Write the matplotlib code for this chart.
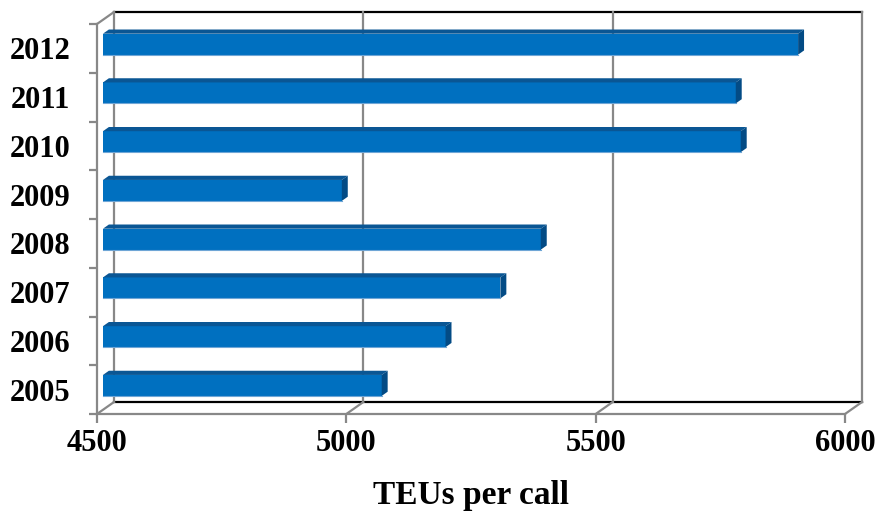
import numpy as np
import matplotlib
matplotlib.use("Agg")
import matplotlib.pyplot as plt
from matplotlib.patches import Polygon

years = ['2005', '2006', '2007', '2008', '2009', '2010', '2011', '2012']
teus_per_call = [5059, 5187, 5297, 5378, 4979, 5779, 5769, 5894]
x_ticks = [4500, 5000, 5500, 6000]
x_min, x_max = 4500, 6000

# pseudo-3d look: how far the back wall sits behind the front plane (data units)
depth_x, depth_y = 34.1, 0.246
bar_front, bar_back = 0.35, 0.70    # bar slab position inside the depth
bar_height = 0.43

front_col = '#0070C0'
top_col = '#0A5694'
side_col = '#034B85'
grid_col = '#888888'

plt.rcParams['font.family'] = ['Liberation Serif', 'DejaVu Serif']

fig = plt.figure(figsize=(8.77, 5.12), dpi=100)
ax = fig.add_axes([97 / 877, 98 / 512, 748 / 877, 390 / 512])
ax.set_xlim(x_min, x_max)
ax.set_ylim(-0.5, len(years) - 0.5)

n = len(years)
top_y = n - 0.5
bot_y = -0.5

# back wall and floor
line_kw = dict(clip_on=False, lw=1.6, solid_capstyle='projecting')
ax.plot([x_min + depth_x, x_max + depth_x], [top_y + depth_y] * 2, color='black', **line_kw)
ax.plot([x_min + depth_x, x_max + depth_x], [bot_y + depth_y] * 2, color='black', **line_kw)
for v in x_ticks:
    ax.plot([v + depth_x] * 2, [bot_y + depth_y, top_y + depth_y], color=grid_col, **line_kw)
    ax.plot([v, v + depth_x], [bot_y, bot_y + depth_y], color=grid_col, **line_kw)
ax.plot([x_min, x_min + depth_x], [top_y, top_y + depth_y], color=grid_col, **line_kw)

# bars: front face via barh, plus top and side faces
y = np.arange(n)
dx0, dy0 = bar_front * depth_x, bar_front * depth_y
ddx, ddy = (bar_back - bar_front) * depth_x, (bar_back - bar_front) * depth_y
widths = np.array(teus_per_call) - x_min
rects = ax.barh(y + dy0, widths, left=x_min + dx0, height=bar_height,
                color=front_col, edgecolor='none', zorder=3, clip_on=False)
for r in rects:
    x0, x1 = r.get_x(), r.get_x() + r.get_width()
    yb, yt = r.get_y(), r.get_y() + r.get_height()
    # thin light rim along the lower edge of the front face
    ax.plot([x0, x1], [yb, yb], color='#6FA6D6', lw=0.8, zorder=4, clip_on=False)
    ax.add_patch(Polygon([(x0, yt), (x1, yt), (x1 + ddx, yt + ddy), (x0 + ddx, yt + ddy)],
                         closed=True, facecolor=top_col, edgecolor='none', zorder=3, clip_on=False))
    ax.add_patch(Polygon([(x1, yb), (x1, yt), (x1 + ddx, yt + ddy), (x1 + ddx, yb + ddy)],
                         closed=True, facecolor=side_col, edgecolor='none', zorder=3, clip_on=False))

# front axes
for s in ['top', 'right']:
    ax.spines[s].set_visible(False)
for s in ['left', 'bottom']:
    ax.spines[s].set_color(grid_col)
    ax.spines[s].set_linewidth(1.6)

ax.set_xticks(x_ticks)
ax.set_xticklabels([str(v) for v in x_ticks])
ax.tick_params(axis='x', direction='out', length=6.5, width=1.6, color=grid_col,
               pad=4, labelsize=22)

ax.set_yticks(y)
ax.set_yticklabels(years)
ax.set_yticks(np.arange(n + 1) - 0.5, minor=True)
ax.tick_params(axis='y', which='major', length=0, pad=19, labelsize=22)
ax.tick_params(axis='y', which='minor', direction='out', length=6, width=1.6, color=grid_col)

for lab in ax.get_xticklabels() + ax.get_yticklabels():
    lab.set_fontweight('bold')

ax.set_xlabel('TEUs per call', fontsize=24, fontweight='bold', labelpad=16)

fig.savefig('out.png', dpi=100, facecolor='white')
